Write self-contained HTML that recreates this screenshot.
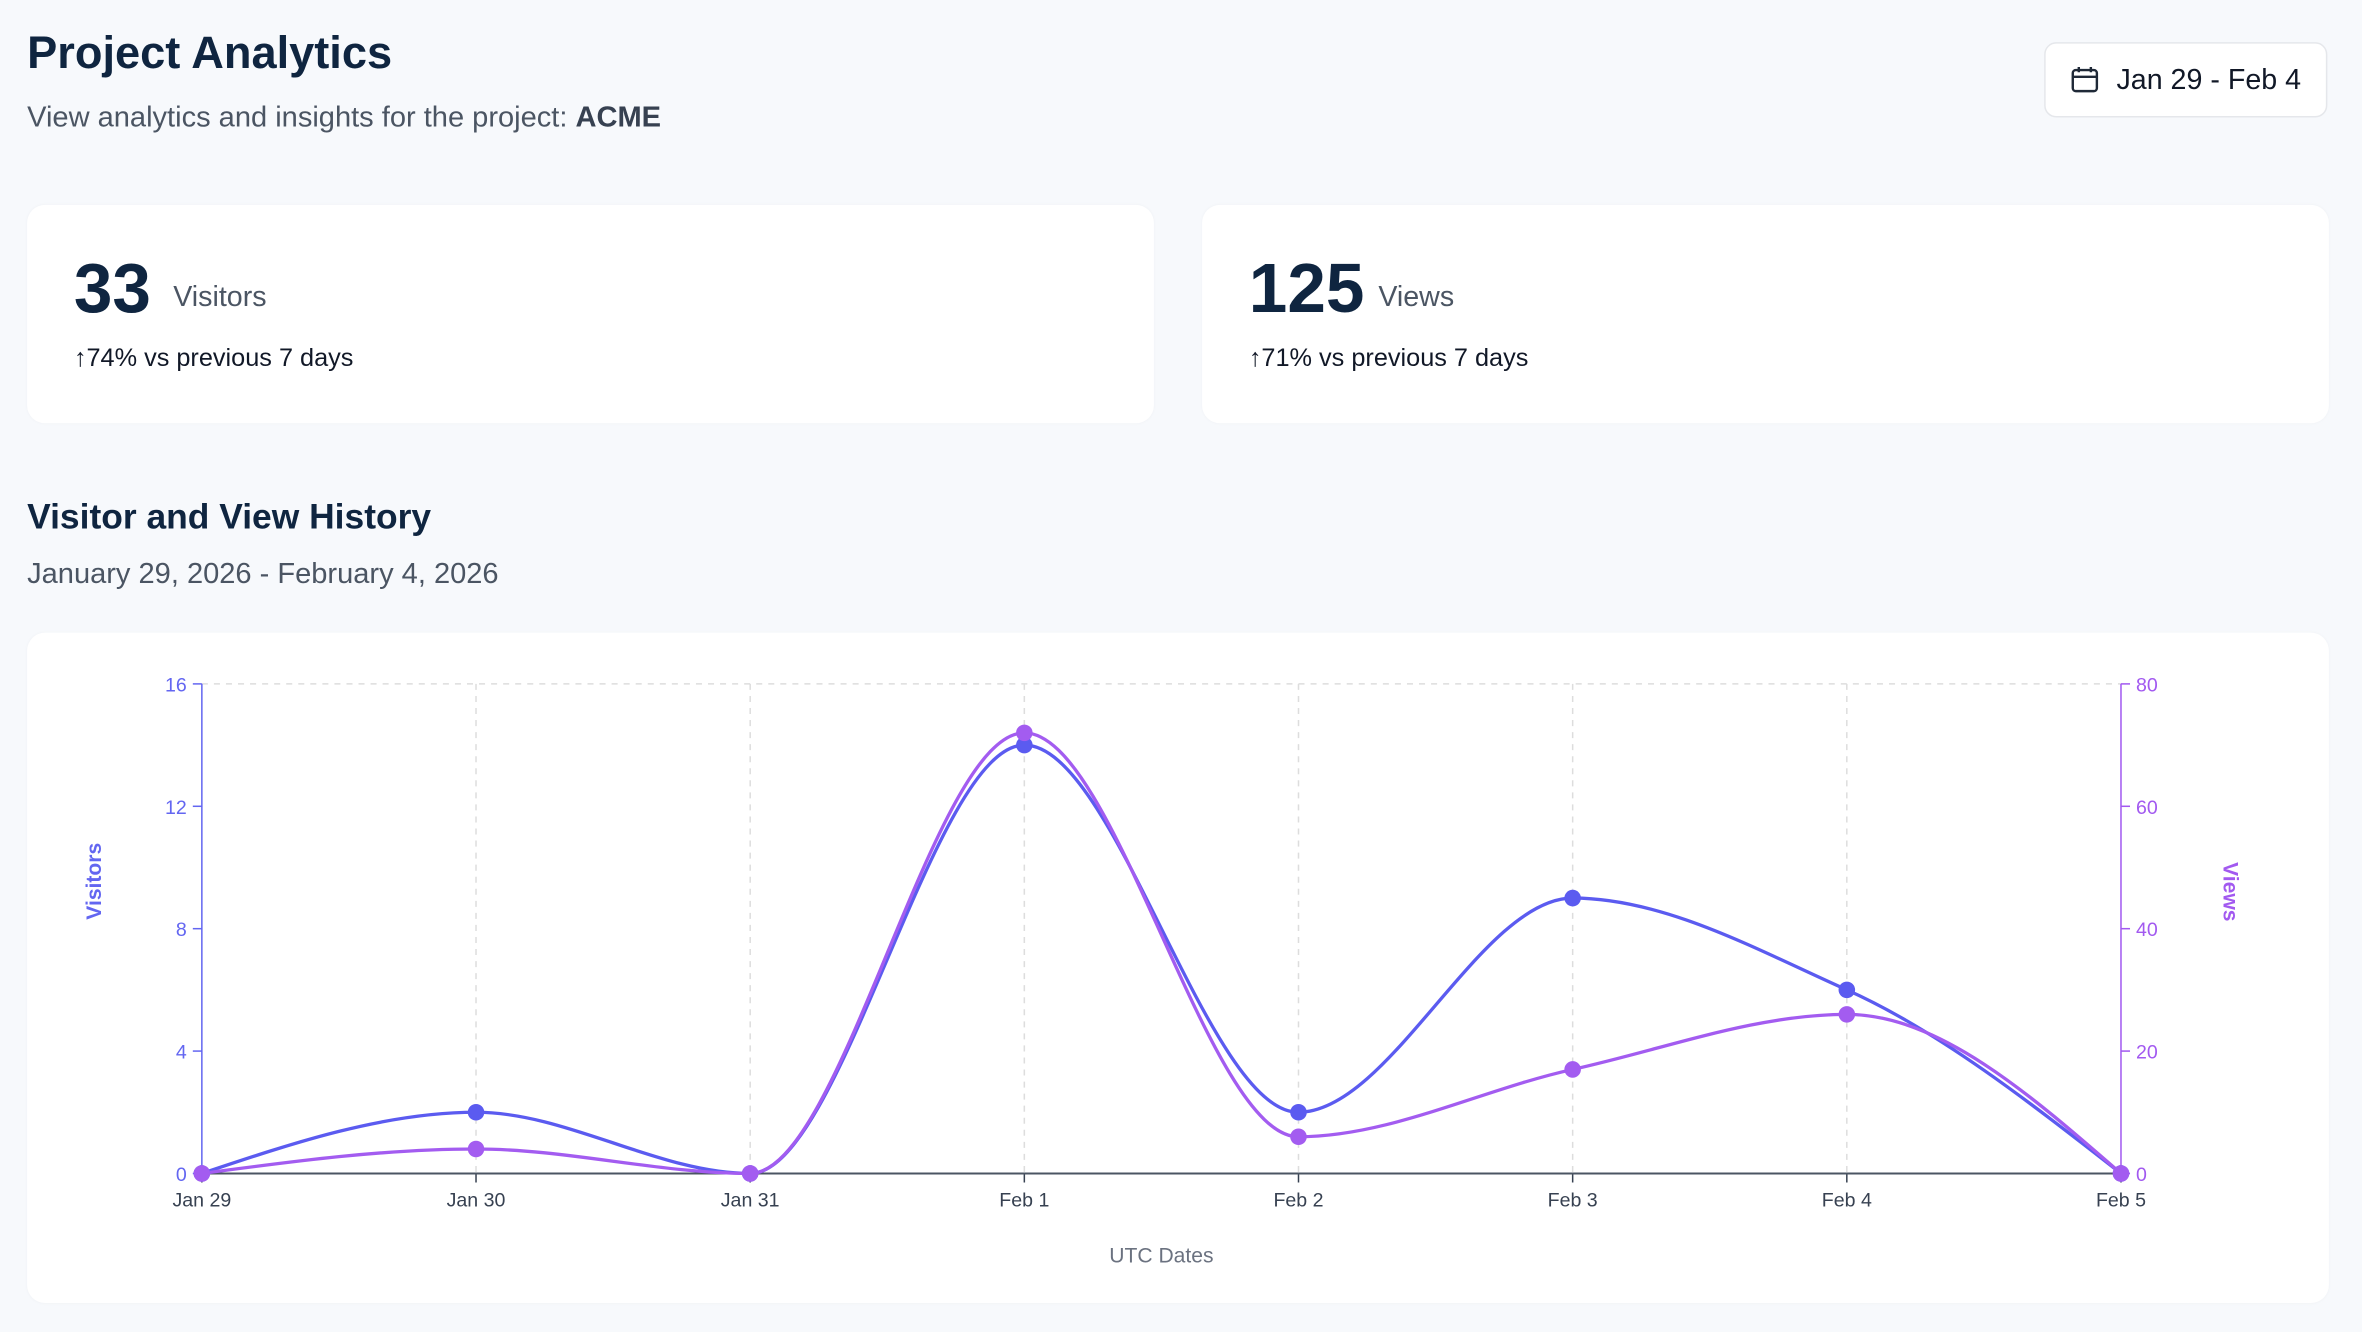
<!DOCTYPE html>
<html><head><meta charset="utf-8">
<style>
html,body{margin:0;padding:0;background:#f7f9fc;}
body{width:2362px;height:1332px;overflow:hidden;font-family:"Liberation Sans",sans-serif;}
#w{width:1568px;height:884px;position:relative;transform:scale(1.50638);transform-origin:0 0;}
.a{position:absolute;white-space:nowrap;}
.card{position:absolute;background:#fff;border-radius:12px;box-shadow:0 0 2px rgba(0,0,0,0.03);}
</style></head><body><div id="w">
<div class="a" style="left:18px;top:19px;font-size:30px;font-weight:bold;color:#0f2540;">Project Analytics</div>
<div class="a" style="left:18px;top:68px;font-size:19.3px;color:#4b5563;">View analytics and insights for the project: <b style="color:#374151">ACME</b></div>
<div class="a" style="left:1357px;top:28px;width:188px;height:50px;background:#fff;border:1px solid #e5e7eb;border-radius:8px;box-sizing:border-box;">
<svg style="position:absolute;left:16px;top:14px" width="20" height="20" viewBox="0 0 20 20" fill="none" stroke="#1f2937" stroke-width="1.6"><rect x="2" y="3.5" width="16" height="14" rx="2"/><line x1="2" y1="8" x2="18" y2="8"/><line x1="6" y1="1.5" x2="6" y2="5"/><line x1="14" y1="1.5" x2="14" y2="5"/></svg>
<div class="a" style="left:47px;top:14px;font-size:19px;color:#111827;">Jan 29 - Feb 4</div></div>
<div class="card" style="left:18px;top:136px;width:748px;height:145px;"></div>
<div class="card" style="left:798px;top:136px;width:748px;height:145px;"></div>
<div class="a" style="left:49px;top:164px;font-size:46px;font-weight:bold;color:#0f2540;">33</div>
<div class="a" style="left:115px;top:187px;font-size:19px;color:#4b5563;">Visitors</div>
<div class="a" style="left:49px;top:228px;font-size:16.8px;color:#111827;">↑74% vs previous 7 days</div>
<div class="a" style="left:829px;top:164px;font-size:46px;font-weight:bold;color:#0f2540;">125</div>
<div class="a" style="left:915px;top:187px;font-size:19px;color:#4b5563;">Views</div>
<div class="a" style="left:829px;top:228px;font-size:16.8px;color:#111827;">↑71% vs previous 7 days</div>
<div class="a" style="left:18px;top:330px;font-size:23.5px;font-weight:bold;color:#0f2540;">Visitor and View History</div>
<div class="a" style="left:18px;top:371px;font-size:19.3px;color:#4b5563;">January 29, 2026 - February 4, 2026</div>
<div class="card" style="left:18px;top:420px;width:1528px;height:445px;"></div>
<svg class="a" style="left:0;top:0" width="1568" height="884" id="ch" font-family="Liberation Sans, sans-serif"></svg>
</div>
<script>
var s=document.getElementById('ch'),h='';
var X=function(i){return 134+i*182.0;};
var YL=function(v){return 779-v*20.3125;},YR=function(v){return 779-v*4.0625;};
var labs=['Jan 29','Jan 30','Jan 31','Feb 1','Feb 2','Feb 3','Feb 4','Feb 5'];
h+='<line x1="134" y1="454" x2="1408" y2="454" stroke="#ddd" stroke-dasharray="4 4"/>';
for(var i=0;i<8;i++){var x=X(i);
 if(i>0&&i<7)h+='<line x1="'+x+'" y1="454" x2="'+x+'" y2="779" stroke="#ddd" stroke-dasharray="4 4"/>';
 h+='<line x1="'+x+'" y1="779" x2="'+x+'" y2="785" stroke="#374151"/>';
 h+='<text x="'+x+'" y="801" font-size="13" fill="#374151" text-anchor="middle">'+labs[i]+'</text>';}
h+='<line x1="134" y1="779" x2="1408" y2="779" stroke="#4b5563" stroke-width="1.3"/>';
h+='<line x1="134" y1="454" x2="134" y2="779" stroke="#6366f1"/>';
h+='<line x1="1408" y1="454" x2="1408" y2="779" stroke="#a259f0"/>';
[0,4,8,12,16].forEach(function(v){var y=YL(v);h+='<line x1="128" y1="'+y+'" x2="134" y2="'+y+'" stroke="#6366f1"/><text x="124" y="'+(y+5)+'" font-size="13" fill="#6366f1" text-anchor="end">'+v+'</text>';});
[0,20,40,60,80].forEach(function(v){var y=YR(v);h+='<line x1="1408" y1="'+y+'" x2="1414" y2="'+y+'" stroke="#a259f0"/><text x="1418" y="'+(y+5)+'" font-size="13" fill="#a259f0">'+v+'</text>';});
h+='<text transform="translate(67,585) rotate(-90)" font-size="14" font-weight="bold" fill="#6366f1" text-anchor="middle">Visitors</text>';
h+='<text transform="translate(1476,592) rotate(90)" font-size="14" font-weight="bold" fill="#a259f0" text-anchor="middle">Views</text>';
h+='<text x="771" y="838" font-size="14" fill="#6b7280" text-anchor="middle">UTC Dates</text>';
function mono(xs,ys){var n=xs.length,d=[],m=[];for(var i=0;i<n-1;i++)d.push((ys[i+1]-ys[i])/(xs[i+1]-xs[i]));
 for(i=0;i<n;i++){if(i==0)m.push(d[0]);else if(i==n-1)m.push(d[n-2]);else{if(d[i-1]*d[i]<=0)m.push(0);else{var a=d[i-1],b=d[i];m.push(2*a*b/(a+b));}}}
 m[0]=(3*d[0]-m[1])/2;m[n-1]=(3*d[n-2]-m[n-2])/2;
 var p='M'+xs[0]+','+ys[0];for(i=0;i<n-1;i++){var dx=(xs[i+1]-xs[i])/3;p+=' C'+(xs[i]+dx)+','+(ys[i]+m[i]*dx)+' '+(xs[i+1]-dx)+','+(ys[i+1]-m[i+1]*dx)+' '+xs[i+1]+','+ys[i+1];}return p;}
var xs=[0,1,2,3,4,5,6,7].map(X);
var vi=[0,2,0,14,2,9,6,0].map(YL),vw=[0,4,0,72,6,17,26,0].map(YR);
h+='<path d="'+mono(xs,vi)+'" fill="none" stroke="#5b5bf0" stroke-width="2.2"/>';
h+='<path d="'+mono(xs,vw)+'" fill="none" stroke="#a35cf0" stroke-width="2.2"/>';
for(i=0;i<8;i++){h+='<circle cx="'+xs[i]+'" cy="'+vi[i]+'" r="5.5" fill="#5b5bf0"/>';}
for(i=0;i<8;i++){h+='<circle cx="'+xs[i]+'" cy="'+vw[i]+'" r="5.5" fill="#a35cf0"/>';}
s.innerHTML=h;
</script>
</body></html>
